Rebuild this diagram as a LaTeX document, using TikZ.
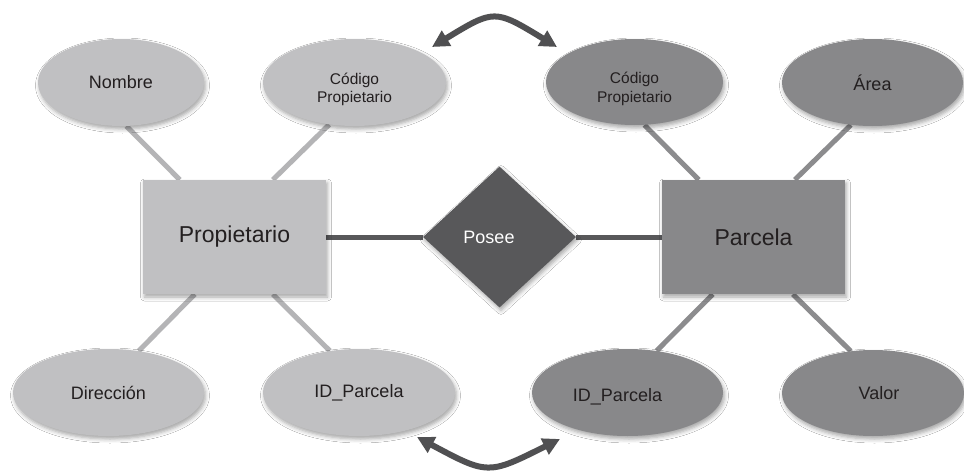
\documentclass[tikz,border=0pt]{standalone}
\usepackage{fontspec}
\setmainfont{Liberation Sans}
\usetikzlibrary{shapes.geometric,arrows.meta,backgrounds,shadows.blur}

\definecolor{entlight}{HTML}{C0C0C2}
\definecolor{entdark}{HTML}{88888A}
\definecolor{reldark}{HTML}{58585A}
\definecolor{linklight}{HTML}{B4B4B6}
\definecolor{linkdark}{HTML}{8C8C8E}
\definecolor{txt}{HTML}{231F20}
\definecolor{arrowc}{HTML}{505052}

\begin{document}
\begin{tikzpicture}[x=1pt,y=-1pt,
  soft/.style={blur shadow={shadow xshift=1.5pt,shadow yshift=-3pt,
      shadow blur radius=4pt,shadow opacity=35}},
  entity/.style={rectangle,inner sep=0pt,minimum width=183pt,minimum height=114pt,
      text=txt,font=\fontsize{23}{27}\selectfont,soft},
  attr/.style={ellipse,inner sep=0pt,text=txt,font=\fontsize{18}{22}\selectfont,soft},
  attrsmall/.style={attr,font=\fontsize{15.5}{18.5}\selectfont},
  relation/.style={diamond,inner sep=0pt,fill=reldark,text=white,
      font=\fontsize{18}{22}\selectfont,soft},
  linkL/.style={line width=5pt,linklight},
  linkR/.style={line width=5pt,linkdark},
  rel/.style={line width=5pt,reldark},
  keyarrow/.style={arrowc,line width=6pt,
      {Triangle[length=17pt,width=17pt]}-{Triangle[length=17pt,width=17pt]}}
]
\useasboundingbox (0,0) rectangle (964,471);

% entities and relationship
\node[entity,fill=entlight] (prop) at (234.5,237) {Propietario};
\node[entity,fill=entdark]  (parc) at (753.5,237) {Parcela};
\node[relation,minimum width=153pt,minimum height=141pt] (posee) at (499.5,237)
  {Posee\hspace*{21pt}};

% attributes of Propietario
\node[attr,fill=entlight,minimum width=166pt,minimum height=87pt] (nombre) at (121,82.5) {Nombre};
\node[attrsmall,fill=entlight,minimum width=183pt,minimum height=87pt] (codL) at (354.5,82.5)
  {\raisebox{-7.5pt}[\height][\depth]{\begin{tabular}{@{}c@{}}Código\\Propietario\end{tabular}}};
\node[attr,fill=entlight,minimum width=191pt,minimum height=87pt] (dir) at (108.5,392.5) {Dirección};
\node[attr,fill=entlight,minimum width=192pt,minimum height=87pt] (idL) at (359,392.5) {ID\_Parcela};

% attributes of Parcela
\node[attrsmall,fill=entdark,minimum width=177pt,minimum height=86pt] (codR) at (634.5,82)
  {\raisebox{-7.5pt}[\height][\depth]{\begin{tabular}{@{}c@{}}Código\\Propietario\end{tabular}}};
\node[attr,fill=entdark,minimum width=181pt,minimum height=87pt] (area) at (872.5,82.5) {Área};
\node[attr,fill=entdark,minimum width=191pt,minimum height=87pt] (idR) at (627.5,392.5)
  {\raisebox{-4.5pt}[\height][\depth]{ID\_Parcela}\hspace*{20pt}};
\node[attr,fill=entdark,minimum width=182pt,minimum height=86pt] (valor) at (873,393)
  {\hspace*{12pt}Valor};

% connectors, kept under the shapes
\begin{scope}[on background layer]
  \fill[white] (0,0) rectangle (964,471);
  \draw[linkL] ([xshift=37pt]prop.north west)  -- (nombre.-83.6);
  \draw[linkL] ([xshift=130pt]prop.north west) -- (codL.-121.8);
  \draw[linkL] ([xshift=52pt]prop.south west)  -- (dir.54.6);
  \draw[linkL] ([xshift=130pt]prop.south west) -- (idL.125);
  \draw[linkR] ([xshift=37pt]parc.north west)  -- (codR.-77.8);
  \draw[linkR] ([xshift=133pt]parc.north west) -- (area.-117.7);
  \draw[linkR] ([xshift=51pt]parc.south west)  -- (idR.55.5);
  \draw[linkR] ([xshift=131pt]parc.south west) -- (valor.118.6);
  \draw[rel] (prop.east) -- (posee.west);
  \draw[rel] (posee.east) -- (parc.west);
\end{scope}

% key correspondences between the two entities
\coordinate (codTipL) at (432,47);
\coordinate (codTipR) at (557,47);
\coordinate (idTipL)  at (417,437);
\coordinate (idTipR)  at (560,439);
\draw[keyarrow] (codTipL) .. controls (494.5,9) and (494.5,9) .. (codTipR);
\draw[keyarrow] (idTipL) .. controls (488,475) and (488,475) .. (idTipR);
\end{tikzpicture}
\end{document}
